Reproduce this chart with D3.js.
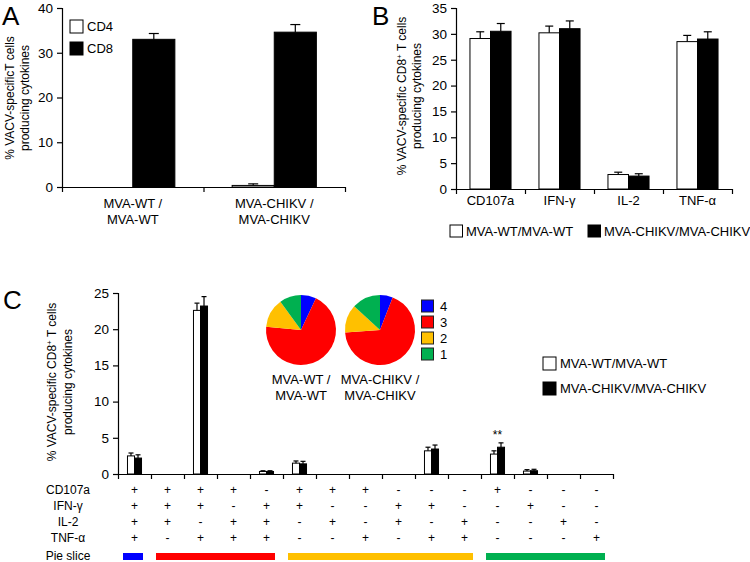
<!DOCTYPE html>
<html><head><meta charset="utf-8">
<script src="https://cdn.jsdelivr.net/npm/d3@7/dist/d3.min.js"></script>
<style>
html,body{margin:0;padding:0;background:#fff;}
svg{display:block;font-family:"Liberation Sans",Arial,sans-serif;}
</style></head>
<body>
<svg id="chart" width="750" height="562"></svg>
<script>
// ---------- Panel A data ----------
const aGroups = [["MVA-WT /","MVA-WT"],["MVA-CHIKV /","MVA-CHIKV"]];
const aSeries = ["CD4","CD8"];
const aCD4 = [0, 0.35];
const aCD4Err = [0, 0.35];
const aCD8 = [33.0, 34.6];
const aCD8Err = [1.3, 1.7];
const aTicks = [0,10,20,30,40];

// ---------- Panel B data ----------
const bCats = ["CD107a","IFN-γ","IL-2","TNF-α"];
const bSeries = ["MVA-WT/MVA-WT","MVA-CHIKV/MVA-CHIKV"];
const bWT = [29.1, 30.2, 2.8, 28.5];
const bWTErr = [1.3, 1.3, 0.45, 1.2];
const bCH = [30.5, 31.0, 2.5, 29.0];
const bCHErr = [1.5, 1.5, 0.45, 1.4];
const bTicks = [0,5,10,15,20,25,30,35];

// ---------- Panel C data ----------
const cRows = ["CD107a","IFN-γ","IL-2","TNF-α"];
const cCD107a = ["+","+","+","+","-","+","+","+","-","-","-","+","-","-","-"];
const cIFNg   = ["+","+","+","-","+","+","-","-","+","+","-","-","+","-","-"];
const cIL2    = ["+","+","-","+","+","-","+","-","+","-","+","-","-","+","-"];
const cTNFa   = ["+","-","+","+","+","-","-","+","-","+","+","-","-","-","+"];
const cWT    = [2.5, 0, 22.6, 0, 0.35, 1.5, 0, 0, 0, 3.2, 0, 2.75, 0.4, 0, 0];
const cWTErr = [0.4, 0, 1.0, 0, 0.1, 0.3, 0, 0, 0, 0.5, 0, 0.45, 0.2, 0, 0];
const cCH    = [2.2, 0, 23.2, 0, 0.35, 1.4, 0, 0, 0, 3.45, 0, 3.7, 0.45, 0, 0];
const cCHErr = [0.45, 0, 1.3, 0, 0.1, 0.35, 0, 0, 0, 0.55, 0, 0.6, 0.2, 0, 0];
const cTicks = [0,5,10,15,20,25];
const cSignif = [{cat:11, label:"**"}];
const pieNames = [["MVA-WT /","MVA-WT"],["MVA-CHIKV /","MVA-CHIKV"]];
const pieKeys = ["4","3","2","1"];
const pieWT = [7.0, 69.5, 13.5, 10.0];
const pieCH = [5.9, 68.0, 12.9, 13.2];
const pieColors = {"4":"#0000ff","3":"#ff0000","2":"#ffc000","1":"#00b050"};

const svg = d3.select("#chart");
const FONT = 13;
const TICKFONT = 13.5;
const LABFONT = 12;

function yAxis(g, y, ticks){
  g.call(d3.axisLeft(y).tickValues(ticks).tickSize(5).tickPadding(4).tickFormat(d3.format("d")));
  g.selectAll("text").attr("font-size", TICKFONT).attr("font-family","Liberation Sans, Arial, sans-serif").attr("fill","#000");
  g.selectAll("line,path").attr("stroke","#000").attr("stroke-width",1.2);
}
function xAxisTicks(g, n, x0, x1){
  const lin = d3.scaleLinear().domain([0,n]).range([x0,x1]);
  g.call(d3.axisBottom(lin).tickValues(d3.range(n+1)).tickSize(5).tickSizeOuter(0).tickFormat(""));
  g.selectAll("line,path").attr("stroke","#000").attr("stroke-width",1.2);
}
function bars(g, x, inner, y, vals, errs, key, fill, capW){
  vals.forEach((v,i)=>{
    if(v<=0) return;
    const bx = x(i) + inner(key);
    const bw = inner.bandwidth();
    g.append("rect").attr("x",bx).attr("y",y(v)).attr("width",bw).attr("height",y(0)-y(v))
      .attr("fill",fill).attr("stroke","#000").attr("stroke-width",1);
    const cx = bx + bw/2, ye = y(v+errs[i]);
    if(errs[i]>0){
      g.append("line").attr("x1",cx).attr("x2",cx).attr("y1",y(v)).attr("y2",ye).attr("stroke","#000").attr("stroke-width",1.2);
      g.append("line").attr("x1",cx-capW/2).attr("x2",cx+capW/2).attr("y1",ye).attr("y2",ye).attr("stroke","#000").attr("stroke-width",1.2);
    }
  });
}
function ylabel(g, cx, cy, lines, gap){
  const t = g.append("text").attr("transform",`translate(${cx},${cy}) rotate(-90)`)
    .attr("text-anchor","middle").attr("font-size",LABFONT).attr("fill","#000");
  lines.forEach((ln,i)=>{
    const ts = t.append("tspan").attr("x",0).attr("y", i*gap);
    ln.forEach(part=>{
      if(part.sup){ ts.append("tspan").attr("baseline-shift","super").attr("font-size",8).text(part.t); }
      else ts.append("tspan").text(part.t);
    });
  });
}
function panelLetter(x,y,t){
  svg.append("text").attr("x",x).attr("y",y).attr("font-size",26).attr("fill","#000").text(t);
}

// ================= Panel A =================
{
  const x0=62,x1=345,yT=8,yB=187;
  const g = svg.append("g");
  const y = d3.scaleLinear().domain([0,40]).range([yB,yT]);
  const x = d3.scaleBand().domain(d3.range(aGroups.length)).range([x0,x1]);
  const inner = d3.scaleBand().domain(aSeries).range([0,x.bandwidth()]).paddingOuter(0.68);
  bars(g,x,inner,y,aCD4,aCD4Err,"CD4","#fff",10);
  bars(g,x,inner,y,aCD8,aCD8Err,"CD8","#000",10);
  yAxis(g.append("g").attr("transform",`translate(${x0},0)`), y, aTicks);
  xAxisTicks(g.append("g").attr("transform",`translate(0,${yB})`), aGroups.length, x0, x1);
  aGroups.forEach((ls,i)=>{
    ls.forEach((l,j)=>g.append("text").attr("x",x(i)+x.bandwidth()/2).attr("y",208+j*16)
      .attr("text-anchor","middle").attr("font-size",FONT).text(l));
  });
  ylabel(g, 14, 98, [[{t:"% VACV-specificT cells"}],[{t:"producing cytokines"}]], 15);
  aSeries.forEach((s,i)=>{
    g.append("rect").attr("x",70).attr("y",20+i*22).attr("width",13).attr("height",13)
      .attr("fill", i===0?"#fff":"#000").attr("stroke","#000");
    g.append("text").attr("x",87).attr("y",31+i*22).attr("font-size",FONT).text(s);
  });
  panelLetter(2,25,"A");
}

// ================= Panel B =================
{
  const x0=456,x1=732,yT=8,yB=189;
  const g = svg.append("g");
  const y = d3.scaleLinear().domain([0,35]).range([yB,yT]);
  const x = d3.scaleBand().domain(d3.range(bCats.length)).range([x0,x1]);
  const inner = d3.scaleBand().domain(bSeries).range([0,x.bandwidth()]).paddingOuter(0.68);
  bars(g,x,inner,y,bWT,bWTErr,bSeries[0],"#fff",8);
  bars(g,x,inner,y,bCH,bCHErr,bSeries[1],"#000",8);
  yAxis(g.append("g").attr("transform",`translate(${x0},0)`), y, bTicks);
  xAxisTicks(g.append("g").attr("transform",`translate(0,${yB})`), bCats.length, x0, x1);
  bCats.forEach((c,i)=>g.append("text").attr("x",x(i)+x.bandwidth()/2).attr("y",205)
      .attr("text-anchor","middle").attr("font-size",FONT).text(c));
  ylabel(g, 406, 96, [[{t:"% VACV-specific CD8"},{t:"+",sup:true},{t:" T cells"}],[{t:"producing cytokines"}]], 15);
  const lx=[450,588];
  bSeries.forEach((s,i)=>{
    g.append("rect").attr("x",lx[i]).attr("y",225).attr("width",12.5).attr("height",12)
      .attr("fill", i===0?"#fff":"#000").attr("stroke","#000");
    g.append("text").attr("x",lx[i]+16).attr("y",236).attr("font-size",FONT).text(s);
  });
  panelLetter(372,25,"B");
}

// ================= Panel C =================
{
  const x0=118,x1=613,yT=293,yB=474;
  const n = cWT.length;
  const g = svg.append("g");
  const y = d3.scaleLinear().domain([0,25]).range([yB,yT]);
  const x = d3.scaleBand().domain(d3.range(n)).range([x0,x1]);
  const inner = d3.scaleBand().domain(bSeries).range([0,x.bandwidth()]).paddingOuter(1.35);
  bars(g,x,inner,y,cWT,cWTErr,bSeries[0],"#fff",5);
  bars(g,x,inner,y,cCH,cCHErr,bSeries[1],"#000",5);
  yAxis(g.append("g").attr("transform",`translate(${x0},0)`), y, cTicks);
  xAxisTicks(g.append("g").attr("transform",`translate(0,${yB})`), n, x0, x1);
  cSignif.forEach(s=>{
    g.append("text").attr("x",x(s.cat)+x.bandwidth()/2).attr("y",y(cCH[s.cat]+cCHErr[s.cat])-4)
      .attr("text-anchor","middle").attr("font-size",12).text(s.label);
  });
  ylabel(g, 56, 382, [[{t:"% VACV-specific CD8"},{t:"+",sup:true},{t:" T cells"}],[{t:"producing cytokines"}]], 16);
  // table
  const rows = [cCD107a,cIFNg,cIL2,cTNFa];
  const rowY = [494,510,526,542];
  rows.forEach((r,ri)=>{
    g.append("text").attr("x",68).attr("y",rowY[ri]).attr("text-anchor","middle").attr("font-size",12).text(cRows[ri]);
    r.forEach((s,ci)=>g.append("text").attr("x",x(ci)+x.bandwidth()/2).attr("y",rowY[ri])
      .attr("text-anchor","middle").attr("font-size",12).text(s));
  });
  g.append("text").attr("x",68).attr("y",560).attr("text-anchor","middle").attr("font-size",12).text("Pie slice");
  // pie slice bars: group consecutive categories by number of positive cytokines
  const counts = d3.range(n).map(i=>rows.filter(r=>r[i]==="+").length);
  const segs=[];
  counts.forEach((c,i)=>{
    if(segs.length && segs[segs.length-1].c===c) segs[segs.length-1].e=i;
    else segs.push({c:c,s:i,e:i});
  });
  segs.forEach(sg=>{
    g.append("rect").attr("x",x(sg.s)+5).attr("y",553)
      .attr("width",x(sg.e)+x.bandwidth()-8-(x(sg.s)+5)).attr("height",7)
      .attr("fill",pieColors[String(sg.c)]);
  });
  // pies
  const pie = d3.pie().sort(null).value(d=>d.v);
  const arc = d3.arc().innerRadius(0).outerRadius(35);
  const pcx=[301,380];
  [pieWT,pieCH].forEach((vals,pi)=>{
    const data = pieKeys.map((k,i)=>({k:k,v:vals[i]}));
    const pg = g.append("g").attr("transform",`translate(${pcx[pi]},330)`);
    pg.selectAll("path").data(pie(data)).enter().append("path").attr("d",arc)
      .attr("fill",d=>pieColors[d.data.k]);
    pieNames[pi].forEach((l,j)=>g.append("text").attr("x",pcx[pi]).attr("y",384+j*16)
      .attr("text-anchor","middle").attr("font-size",FONT).text(l));
  });
  pieKeys.forEach((k,i)=>{
    g.append("rect").attr("x",421.5).attr("y",300+i*16).attr("width",12).attr("height",12)
      .attr("fill",pieColors[k]).attr("stroke","#222").attr("stroke-width",1);
    g.append("text").attr("x",440).attr("y",311+i*16).attr("font-size",FONT).text(k);
  });
  bSeries.forEach((s,i)=>{
    g.append("rect").attr("x",543).attr("y",357+i*25).attr("width",13).attr("height",13)
      .attr("fill", i===0?"#fff":"#000").attr("stroke","#000");
    g.append("text").attr("x",560).attr("y",368+i*25).attr("font-size",FONT).text(s);
  });
  panelLetter(3,309,"C");
}
</script>
</body></html>
